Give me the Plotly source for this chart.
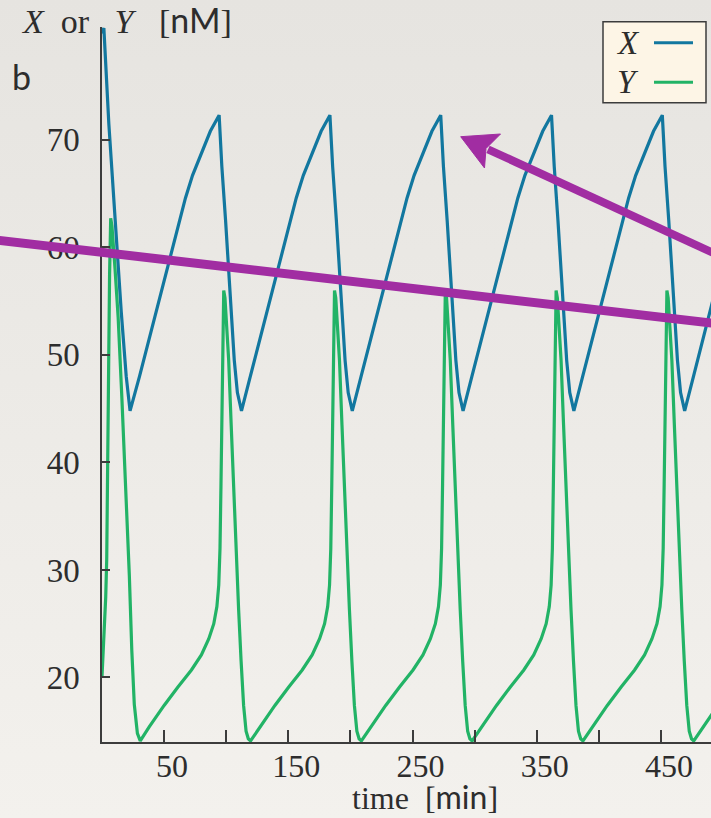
import base64
import plotly.graph_objects as go

# ---------------- data ----------------
x_time = [0, 1.5, 5.5, 11, 15.5, 19.5, 22.6,
          30.2, 40.9, 48.0, 55.1, 61.2, 67.2, 72.9, 80.8, 87.2, 94.3,
          96.5, 99.5, 102.0, 104.0, 106.5, 109.0, 111.2, 112.3,
          119.4, 130.1, 137.2, 144.3, 150.4, 156.4, 162.1, 170.0, 176.4, 183.5,
          185.7, 188.7, 191.2, 193.2, 195.7, 198.2, 200.4, 201.5,
          208.6, 219.3, 226.4, 233.5, 239.6, 245.6, 251.3, 259.2, 265.6, 272.7,
          274.9, 277.9, 280.4, 282.4, 284.9, 287.4, 289.6, 290.7,
          297.8, 308.5, 315.6, 322.7, 328.8, 334.8, 340.5, 348.4, 354.8, 361.9,
          364.1, 367.1, 369.6, 371.6, 374.1, 376.6, 378.8, 379.9,
          387.0, 397.7, 404.8, 411.9, 418.0, 424.0, 429.7, 437.6, 444.0, 451.1,
          453.3, 456.3, 458.8, 460.8, 463.3, 465.8, 468.0, 469.1,
          476.2, 486.9, 494.0]
x_conc = [79.9, 80.4, 71.5, 61.5, 54.0, 48.0, 44.8,
          48.0, 52.8, 56.1, 59.4, 62.0, 64.6, 66.7, 69.0, 70.8, 72.3,
          67.5, 62.5, 57.5, 53.5, 49.5, 46.5, 45.1, 44.8,
          48.0, 52.8, 56.1, 59.4, 62.0, 64.6, 66.7, 69.0, 70.8, 72.3,
          67.5, 62.5, 57.5, 53.5, 49.5, 46.5, 45.1, 44.8,
          48.0, 52.8, 56.1, 59.4, 62.0, 64.6, 66.7, 69.0, 70.8, 72.3,
          67.5, 62.5, 57.5, 53.5, 49.5, 46.5, 45.1, 44.8,
          48.0, 52.8, 56.1, 59.4, 62.0, 64.6, 66.7, 69.0, 70.8, 72.3,
          67.5, 62.5, 57.5, 53.5, 49.5, 46.5, 45.1, 44.8,
          48.0, 52.8, 56.1, 59.4, 62.0, 64.6, 66.7, 69.0, 70.8, 72.3,
          67.5, 62.5, 57.5, 53.5, 49.5, 46.5, 45.1, 44.8,
          48.0, 52.8, 56.1]

y_time = [0, 1.5, 3.0, 3.8, 4.5, 5.3, 6.1, 7.0, 8.0, 10.5, 13.0, 16.0, 19.0, 22.0, 24.0, 26.0, 28.5, 30.8,
          38.0, 50.0, 61.0, 72.0, 80.0, 86.0, 90.0, 92.5, 94.0, 95.0, 95.8, 96.5, 97.2, 98.0,
          99.0, 100.5, 102.0, 104.0, 106.0, 108.0, 110.0, 112.0, 114.0, 116.0, 117.8, 119.6,
          127.2, 139.2, 150.2, 161.2, 169.2, 175.2, 179.2, 181.7, 183.2, 184.2, 185.0, 185.7, 186.4, 187.2,
          188.2, 189.7, 191.2, 193.2, 195.2, 197.2, 199.2, 201.2, 203.2, 205.2, 207.0, 208.8,
          216.4, 228.4, 239.4, 250.4, 258.4, 264.4, 268.4, 270.9, 272.4, 273.4, 274.2, 274.9, 275.6, 276.4,
          277.4, 278.9, 280.4, 282.4, 284.4, 286.4, 288.4, 290.4, 292.4, 294.4, 296.2, 298.0,
          305.6, 317.6, 328.6, 339.6, 347.6, 353.6, 357.6, 360.1, 361.6, 362.6, 363.4, 364.1, 364.8, 365.6,
          366.6, 368.1, 369.6, 371.6, 373.6, 375.6, 377.6, 379.6, 381.6, 383.6, 385.4, 387.2,
          394.8, 406.8, 417.8, 428.8, 436.8, 442.8, 446.8, 449.3, 450.8, 451.8, 452.6, 453.3, 454.0, 454.8,
          455.8, 457.3, 458.8, 460.8, 462.8, 464.8, 466.8, 468.8, 470.8, 472.8, 474.6, 476.4,
          483.9, 495.9]
y_conc = [20.1, 23.5, 27.5, 31.0, 40.0, 50.0, 57.5, 62.7, 62.0, 58.0, 53.5, 46.0, 38.0, 29.5, 22.5, 17.5, 14.8, 14.1,
          15.4, 17.4, 19.1, 20.7, 22.1, 23.6, 25.0, 26.6, 28.6, 32.0, 38.0, 45.0, 52.0, 56.0,
          55.3, 52.8, 49.5, 43.5, 37.2, 31.5, 26.3, 21.5, 17.4, 15.0, 14.3, 14.1,
          15.4, 17.4, 19.1, 20.7, 22.1, 23.6, 25.0, 26.6, 28.6, 32.0, 38.0, 45.0, 52.0, 56.0,
          55.3, 52.8, 49.5, 43.5, 37.2, 31.5, 26.3, 21.5, 17.4, 15.0, 14.3, 14.1,
          15.4, 17.4, 19.1, 20.7, 22.1, 23.6, 25.0, 26.6, 28.6, 32.0, 38.0, 45.0, 52.0, 56.0,
          55.3, 52.8, 49.5, 43.5, 37.2, 31.5, 26.3, 21.5, 17.4, 15.0, 14.3, 14.1,
          15.4, 17.4, 19.1, 20.7, 22.1, 23.6, 25.0, 26.6, 28.6, 32.0, 38.0, 45.0, 52.0, 56.0,
          55.3, 52.8, 49.5, 43.5, 37.2, 31.5, 26.3, 21.5, 17.4, 15.0, 14.3, 14.1,
          15.4, 17.4, 19.1, 20.7, 22.1, 23.6, 25.0, 26.6, 28.6, 32.0, 38.0, 45.0, 52.0, 56.0,
          55.3, 52.8, 49.5, 43.5, 37.2, 31.5, 26.3, 21.5, 17.4, 15.0, 14.3, 14.1,
          15.4, 17.4]

x_tick_vals = [50, 100, 150, 200, 250, 300, 350, 400, 450]
x_tick_text = ["50", "", "150", "", "250", "", "350", "", "450"]
y_tick_vals = [20, 30, 40, 50, 60, 70]
y_tick_text = ["20", "30", "40", "50", "60", "70"]

# ---------------- style ----------------
BLUE = "#12779f"
GREEN = "#22b366"
PURPLE = "#a12da2"
INK = "#2d2d2d"
AXIS = "#3c3c3c"
SERIF = "Liberation Serif"
SANS = "Lato"

W, H = 711, 818
L, R, T, B = 102, 0, 27, 76
PW, PH = W - L - R, H - T - B


def px(x):
    return (x - L) / PW


def py(y):
    return (H - B - y) / PH


fig = go.Figure()
fig.add_trace(go.Scatter(x=x_time, y=x_conc, mode="lines", name="X",
                         line=dict(color=BLUE, width=3.2), showlegend=False))
fig.add_trace(go.Scatter(x=y_time, y=y_conc, mode="lines", name="Y",
                         line=dict(color=GREEN, width=3.2), showlegend=False))

# paper-like background gradient
svg = ('<svg xmlns="http://www.w3.org/2000/svg" width="10" height="100" preserveAspectRatio="none">'
       '<defs><linearGradient id="g" x1="0" y1="0" x2="0" y2="1">'
       '<stop offset="0" stop-color="#e6e4e0"/><stop offset="1" stop-color="#f3f1ed"/>'
       '</linearGradient></defs><rect width="10" height="100" fill="url(#g)"/></svg>')
bg_src = "data:image/svg+xml;base64," + base64.b64encode(svg.encode()).decode()

shapes = []
# legend box
shapes.append(dict(type="rect", xref="paper", yref="paper",
                   x0=px(603), x1=px(706), y0=py(102.7), y1=py(21.7),
                   fillcolor="#fdf5e6", line=dict(color=AXIS, width=1.5), layer="above"))
shapes.append(dict(type="line", xref="paper", yref="paper",
                   x0=px(654), x1=px(693), y0=py(42.7), y1=py(42.7),
                   line=dict(color=BLUE, width=3), layer="above"))
shapes.append(dict(type="line", xref="paper", yref="paper",
                   x0=px(654), x1=px(693), y0=py(82.3), y1=py(82.3),
                   line=dict(color=GREEN, width=3), layer="above"))
# purple overlay strokes
shapes.append(dict(type="line", xref="paper", yref="paper",
                   x0=px(-10), y0=py(239.3), x1=px(730), y1=py(325.2),
                   line=dict(color=PURPLE, width=9), layer="above"))
shapes.append(dict(type="line", xref="paper", yref="paper",
                   x0=px(488), y0=py(149.3), x1=px(740), y1=py(265.2),
                   line=dict(color=PURPLE, width=8), layer="above"))
# arrow head (tip, corner, notch, corner)
tip = (460.7, 136.7)
c1 = (500.5, 134.0)
c2 = (484.5, 168.0)
notch = (486.0, 148.5)
path = "M {},{} L {},{} L {},{} L {},{} Z".format(
    px(tip[0]), py(tip[1]), px(c1[0]), py(c1[1]),
    px(notch[0]), py(notch[1]), px(c2[0]), py(c2[1]))
shapes.append(dict(type="path", xref="paper", yref="paper", path=path,
                   fillcolor=PURPLE, line=dict(color=PURPLE, width=1), layer="above"))

annotations = [
    dict(text="<i>X</i>&nbsp;&nbsp;or&nbsp;&nbsp;&nbsp;<i>Y</i>&nbsp;&nbsp;&nbsp;[<span style='font-family:Lato'>nM</span>]",
         xref="paper", yref="paper", x=px(19), y=py(20), xanchor="left", yanchor="middle",
         showarrow=False, font=dict(family=SERIF, size=34, color=INK)),
    dict(text="b", xref="paper", yref="paper", x=px(10), y=py(77), xanchor="left", yanchor="middle",
         showarrow=False, font=dict(family=SANS, size=34, color=INK)),
    dict(text="time&nbsp;&nbsp;[<span style='font-family:Lato'>min</span>]",
         xref="paper", yref="paper", x=px(425), y=py(796), xanchor="center", yanchor="middle",
         showarrow=False, font=dict(family=SERIF, size=32, color=INK)),
    dict(text="<i>X</i>", xref="paper", yref="paper", x=px(628), y=py(43), xanchor="center",
         yanchor="middle", showarrow=False, font=dict(family=SERIF, size=33, color=INK)),
    dict(text="<i>Y</i>", xref="paper", yref="paper", x=px(628), y=py(82), xanchor="center",
         yanchor="middle", showarrow=False, font=dict(family=SERIF, size=33, color=INK)),
]

fig.update_layout(
    width=W, height=H,
    margin=dict(l=L, r=R, t=T, b=B, pad=0),
    paper_bgcolor="#eceae6",
    plot_bgcolor="rgba(0,0,0,0)",
    showlegend=False,
    shapes=shapes,
    annotations=annotations,
    images=[dict(source=bg_src, xref="paper", yref="paper", x=px(0), y=py(0),
                 sizex=W / PW, sizey=H / PH, xanchor="left", yanchor="top",
                 sizing="stretch", layer="below")],
    xaxis=dict(range=[0, 490.3], showgrid=False, zeroline=False, showline=True,
               linecolor=AXIS, linewidth=1.5, ticks="inside", ticklen=12, tickwidth=1.5,
               tickcolor=AXIS, tickvals=x_tick_vals, ticktext=x_tick_text,
               tickfont=dict(family=SERIF, size=32, color=INK), ticklabelshift=8,
               ticklabelstandoff=-5),
    yaxis=dict(range=[14.0, 80.5], showgrid=False, zeroline=False, showline=True,
               linecolor=AXIS, linewidth=1.5, ticks="inside", ticklen=8, tickwidth=1.5,
               tickcolor=AXIS, tickvals=y_tick_vals, ticktext=y_tick_text,
               tickfont=dict(family=SERIF, size=33, color=INK), ticklabelstandoff=14),
)

fig.write_html("out.html", config={"displayModeBar": False},
               post_script="document.body.style.margin='0px';")
